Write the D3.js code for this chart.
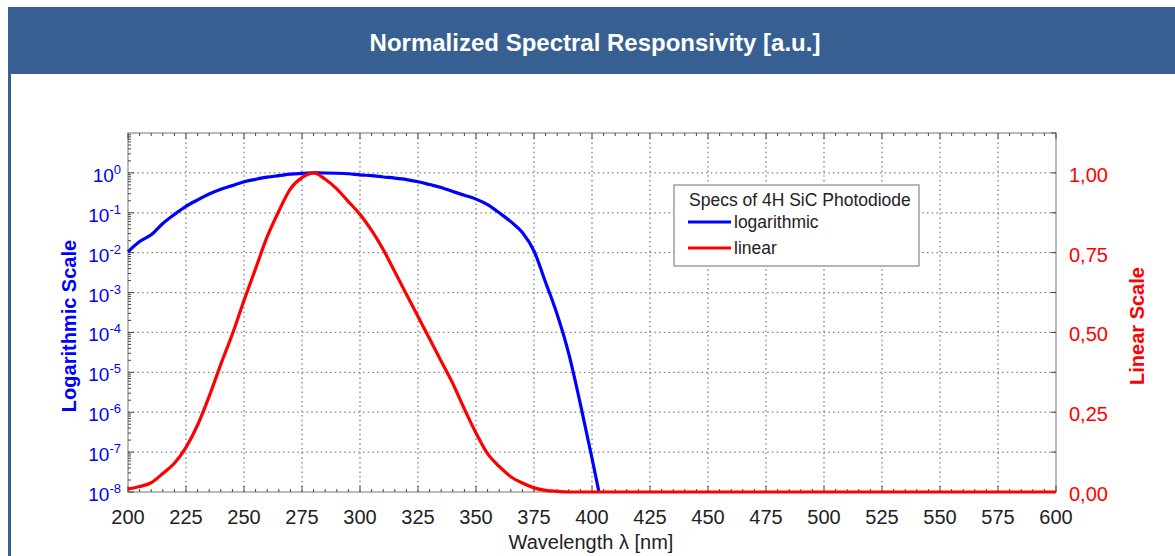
<!DOCTYPE html>
<html><head><meta charset="utf-8">
<script src="https://cdn.jsdelivr.net/npm/d3@7"></script>
<style>
html,body{margin:0;padding:0;background:#fff;}
svg{display:block;font-family:"Liberation Sans",Arial,Helvetica,sans-serif;}
</style></head>
<body>
<svg id="chart" width="1175" height="556"></svg>
<script>
// ---- data ----
const chartTitle = "Normalized Spectral Responsivity [a.u.]";
const wavelengthsLog = [200,205,210,215,220,225,230,235,240,245,250,255,260,265,270,275,280,285,290,295,300,305,310,315,320,325,330,335,340,345,350,355,360,365,370,375,380,385,390,395,400,403];
const responsivityLog = [0.0105,0.019,0.028,0.054,0.091,0.145,0.21,0.295,0.39,0.48,0.6,0.69,0.78,0.85,0.93,0.975,1.0,0.995,0.98,0.95,0.89,0.85,0.79,0.74,0.68,0.6,0.51,0.43,0.34,0.275,0.22,0.16,0.1,0.06,0.032,0.011,0.0018,0.00028,0.000029,0.0000016,0.00000007,0.00000001];
const wavelengthsLin = [200,205,210,215,220,225,230,235,240,245,250,255,260,265,270,275,280,285,290,295,300,305,310,315,320,325,330,335,340,345,350,355,360,365,370,375,380,385,390,400,450,500,550,600];
const responsivityLin = [0.009,0.017,0.029,0.058,0.09,0.14,0.21,0.30,0.40,0.495,0.60,0.70,0.80,0.88,0.95,0.985,1.0,0.98,0.95,0.91,0.87,0.82,0.76,0.69,0.62,0.55,0.48,0.41,0.34,0.26,0.185,0.12,0.08,0.048,0.028,0.013,0.005,0.002,0,0,0,0,0,0];
const xTicks = [200,225,250,275,300,325,350,375,400,425,450,475,500,525,550,575,600];
const logExponents = [0,-1,-2,-3,-4,-5,-6,-7,-8];
const linTicks = [0,0.25,0.5,0.75,1.0];
const legendTitle = "Specs of 4H SiC Photodiode";
const legendItems = [{label:"logarithmic", color:"#0000ff"},{label:"linear", color:"#ff0000"}];

// ---- layout ----
const svg = d3.select("#chart");
const L = 128, R = 1056, T = 133, B = 492;
const x = d3.scaleLinear().domain([200,600]).range([L,R]);
const yLog = d3.scaleLog().domain([1e-8,10]).range([B,T]);
const yLin = d3.scaleLinear().domain([0,1.125]).range([B,T]);
const BLUE = "#0000ff", RED = "#ff0000", HEAD = "#375f91";

// header
svg.append("rect").attr("x",8).attr("y",7).attr("width",1167).attr("height",67).attr("fill",HEAD);
svg.append("rect").attr("x",8).attr("y",74).attr("width",3).attr("height",482).attr("fill",HEAD);
svg.append("text").attr("x",595).attr("y",51).attr("text-anchor","middle")
  .attr("fill","#fff").attr("font-weight","bold").attr("font-size",24).text(chartTitle);

// grid
const grid = svg.append("g").attr("stroke","#808080").attr("stroke-width",1.3).attr("stroke-dasharray","1.5,3.2");
xTicks.slice(1,-1).forEach(t => grid.append("line").attr("x1",x(t)).attr("x2",x(t)).attr("y1",T).attr("y2",B));
logExponents.forEach(e => { if (e>-8) grid.append("line").attr("x1",L).attr("x2",R).attr("y1",yLog(Math.pow(10,e))).attr("y2",yLog(Math.pow(10,e))); });

// frame
svg.append("rect").attr("x",L).attr("y",T).attr("width",R-L).attr("height",B-T)
  .attr("fill","none").attr("stroke","#8c8c8c").attr("stroke-width",1.2);

// ticks
const tk = svg.append("g").attr("stroke","#444").attr("stroke-width",1);
d3.range(200,601,5).forEach(v => {
  const len = (v%25===0)?6:3;
  tk.append("line").attr("x1",x(v)).attr("x2",x(v)).attr("y1",B).attr("y2",B-len);
  tk.append("line").attr("x1",x(v)).attr("x2",x(v)).attr("y1",T).attr("y2",T+len);
});
for (let e=-8;e<1;e++) {
  for (let m=1;m<10;m++) {
    const v = m*Math.pow(10,e);
    const len = m===1?6:3;
    tk.append("line").attr("x1",L).attr("x2",L+len).attr("y1",yLog(v)).attr("y2",yLog(v));
  }
}
d3.range(0,1.126,0.125).forEach(v => {
  tk.append("line").attr("x1",R).attr("x2",R-5).attr("y1",yLin(v)).attr("y2",yLin(v));
});

// x tick labels
svg.append("g").selectAll("text").data(xTicks).join("text")
  .attr("x",d=>x(d)).attr("y",524).attr("text-anchor","middle")
  .attr("font-size",20).attr("fill","#222").text(d=>d);

// left log labels
const ll = svg.append("g").attr("fill",BLUE);
logExponents.forEach(e => {
  const t = ll.append("text").attr("x",121).attr("y",yLog(Math.pow(10,e))+9).attr("text-anchor","end").attr("font-size",19);
  t.append("tspan").text("10");
  t.append("tspan").attr("font-size",13).attr("dy",-8).text(String(e));
});

// right linear labels
svg.append("g").selectAll("text").data(linTicks).join("text")
  .attr("x",1069).attr("y",d=>yLin(d)+9).attr("font-size",20).attr("fill",RED)
  .text(d=>d3.format(".2f")(d).replace(".",","));

// axis titles
svg.append("text").attr("transform","translate(76,326) rotate(-90)").attr("text-anchor","middle")
  .attr("font-size",20).attr("font-weight","bold").attr("fill",BLUE).text("Logarithmic Scale");
svg.append("text").attr("transform","translate(1144,326) rotate(-90)").attr("text-anchor","middle")
  .attr("font-size",20).attr("font-weight","bold").attr("fill",RED).text("Linear Scale");
svg.append("text").attr("x",591).attr("y",549).attr("text-anchor","middle")
  .attr("font-size",20).attr("fill","#222").text("Wavelength \u03bb [nm]");

// curves
const logLine = d3.line().x((d,i)=>x(wavelengthsLog[i])).y(d=>yLog(d)).curve(d3.curveMonotoneX);
svg.append("path").attr("d",logLine(responsivityLog)).attr("fill","none").attr("stroke",BLUE).attr("stroke-width",3.2).attr("stroke-linejoin","round");
const linLine = d3.line().x((d,i)=>x(wavelengthsLin[i])).y(d=>yLin(d)).curve(d3.curveMonotoneX);
svg.append("path").attr("d",linLine(responsivityLin)).attr("fill","none").attr("stroke",RED).attr("stroke-width",3.2).attr("stroke-linejoin","round");

// legend
const lg = svg.append("g");
lg.append("rect").attr("x",674).attr("y",185).attr("width",245).attr("height",81).attr("fill","#fff").attr("stroke","#888").attr("stroke-width",1.2);
lg.append("text").attr("x",689).attr("y",206).attr("font-size",17.5).attr("fill","#222").text(legendTitle);
legendItems.forEach((it,i) => {
  const yy = 222 + i*26;
  lg.append("line").attr("x1",688).attr("x2",731).attr("y1",yy).attr("y2",yy).attr("stroke",it.color).attr("stroke-width",3.2);
  lg.append("text").attr("x",734).attr("y",yy+6).attr("font-size",17.5).attr("fill","#222").text(it.label);
});
</script>
</body></html>
